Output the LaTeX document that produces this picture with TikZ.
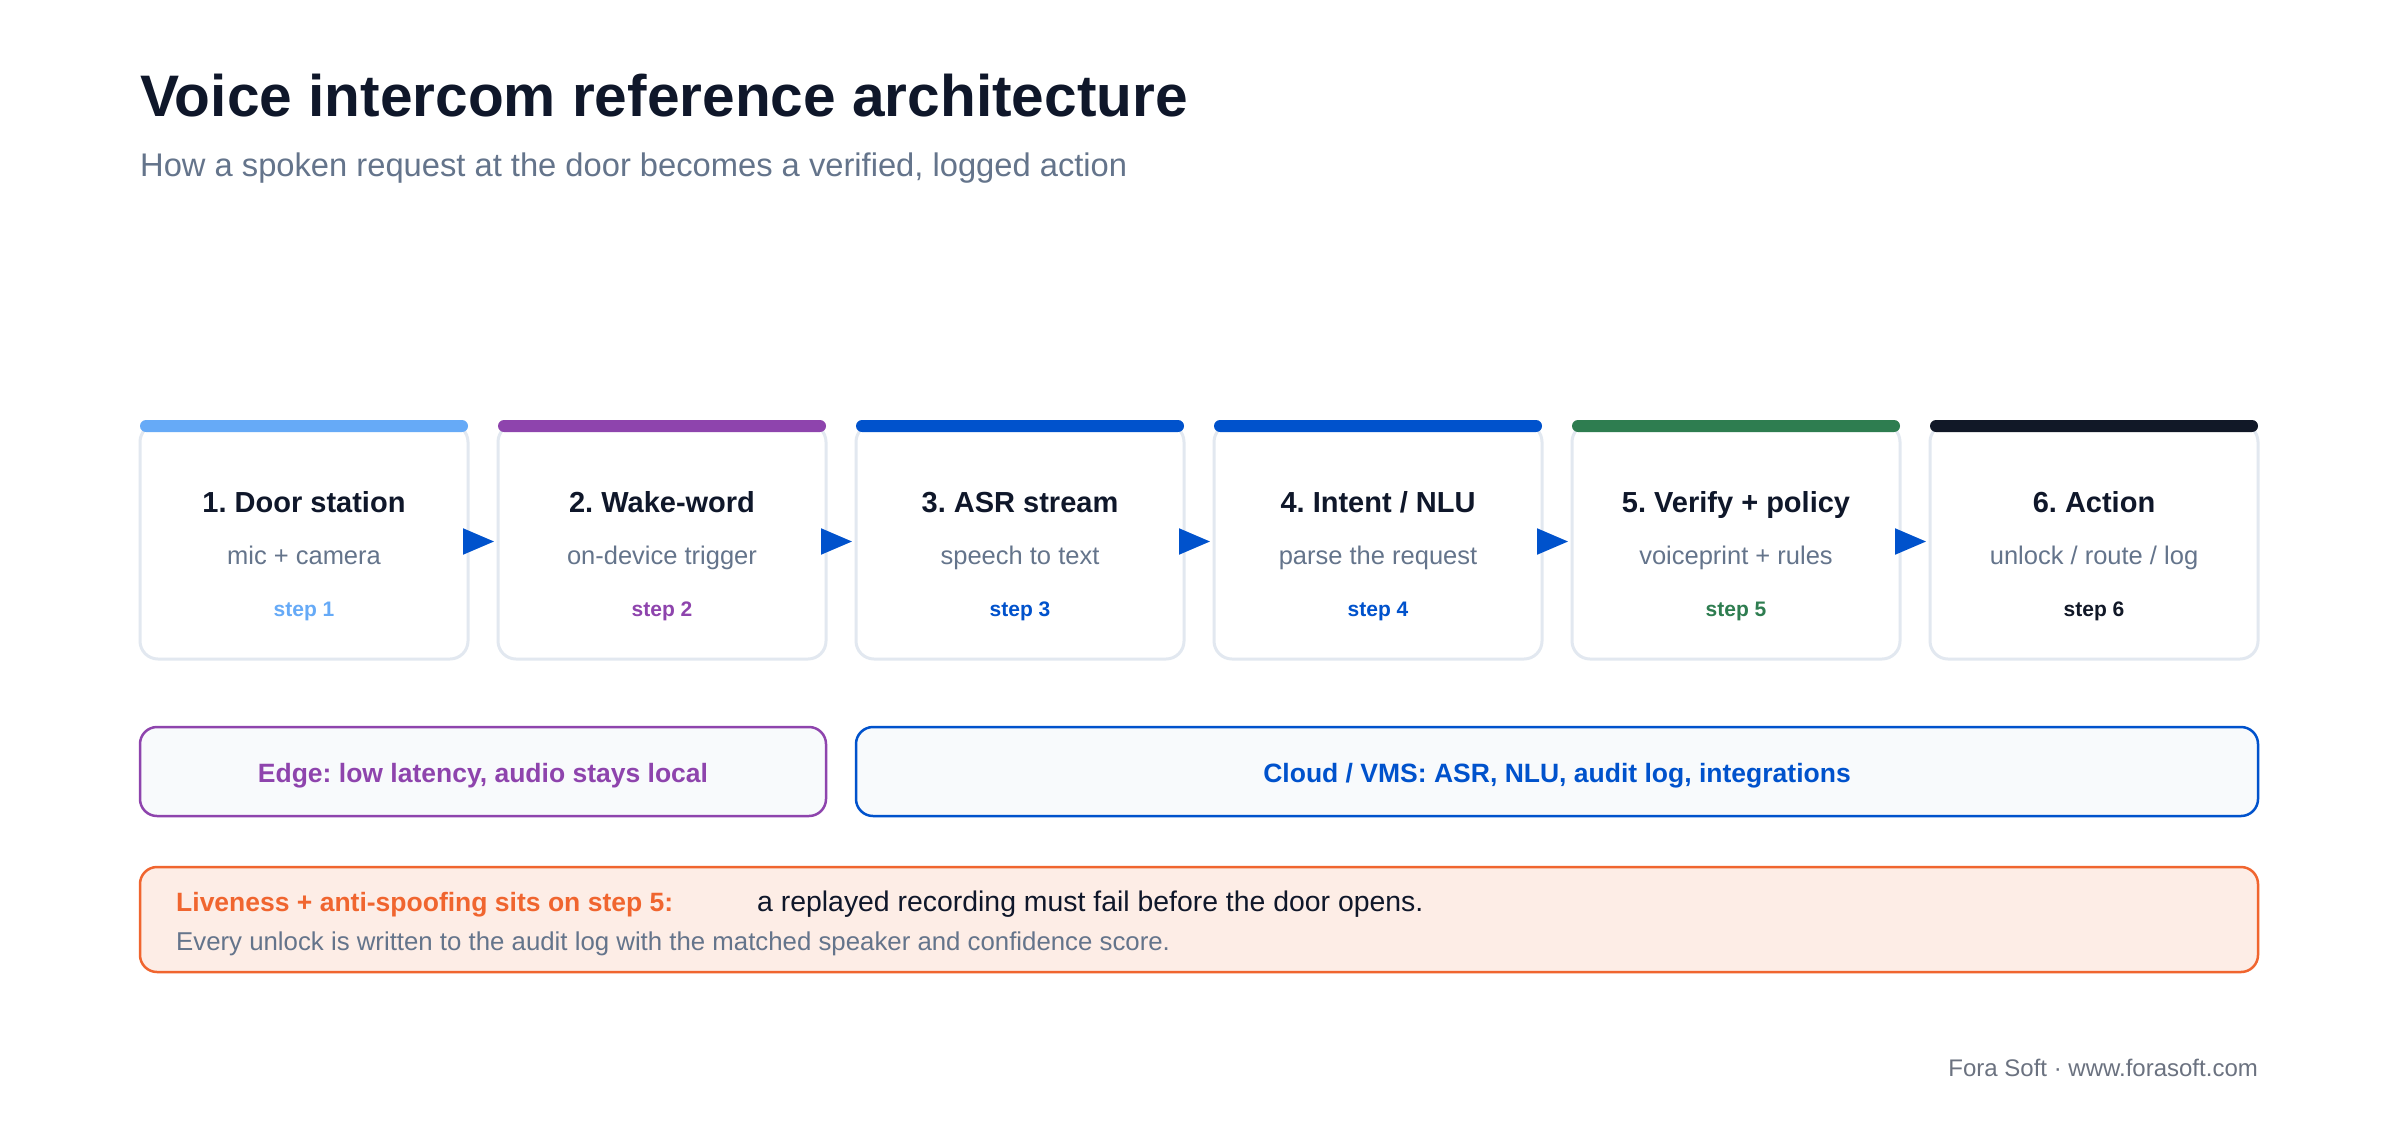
\documentclass[tikz,border=0pt]{standalone}
\usepackage{fontspec}
\setmainfont{Liberation Sans}
\usetikzlibrary{arrows.meta}
\frenchspacing
\definecolor{navy}{HTML}{0F172A}
\definecolor{slate}{HTML}{64748B}
\definecolor{boxline}{HTML}{E2E8F0}
\definecolor{cA}{HTML}{66AAF7}
\definecolor{cB}{HTML}{8E44AD}
\definecolor{cC}{HTML}{0052CC}
\definecolor{cD}{HTML}{0052CC}
\definecolor{cE}{HTML}{2E7D50}
\definecolor{cF}{HTML}{111827}
\definecolor{zonefill}{HTML}{F8FAFC}
\definecolor{warnline}{HTML}{F0652F}
\definecolor{warnfill}{HTML}{FDEDE6}
\definecolor{footgray}{HTML}{6B7280}
\newcommand{\myfs}[1]{\fontsize{#1}{#1}\selectfont}
\tikzset{
  stepbox/.style={draw=boxline, line width=3pt, fill=white, rounded corners=18pt,
    minimum width=328pt, minimum height=235pt, inner sep=0pt},
  topbar/.style={rounded corners=6pt, minimum width=328pt, minimum height=12pt, inner sep=0pt},
  steptitle/.style={anchor=base, font=\bfseries\myfs{29}, text=navy, inner sep=0pt},
  stepdesc/.style={anchor=base, font=\myfs{25.5}, text=slate, inner sep=0pt},
  steplabel/.style={anchor=base, font=\bfseries\myfs{21}, inner sep=0pt},
  flow/.style={draw=cC, fill=cC, line width=2pt, -{Triangle[length=31pt,width=26pt]}},
  zonebox/.style={line width=2.5pt, fill=zonefill, rounded corners=17pt, minimum height=89pt, inner sep=0pt},
  zonetext/.style={anchor=base, font=\bfseries\myfs{26.5}, inner sep=0pt},
}
\begin{document}
\begin{tikzpicture}[x=1pt,y=-1pt]
\useasboundingbox[fill=white] (0,0) rectangle (2400,1120);

% title
\node[anchor=base west, inner sep=0pt, font=\bfseries\myfs{58.6}, text=navy] (title) at (140,116) {Voice intercom reference architecture};
\node[anchor=base west, inner sep=0pt, font=\myfs{32.7}, text=slate] (subtitle) at (140,176) {How a spoken request at the door becomes a verified, logged action};

% step boxes
\node[stepbox] (s1) at (304,541.5) {};
\node[stepbox] (s2) at (662,541.5) {};
\node[stepbox] (s3) at (1020,541.5) {};
\node[stepbox] (s4) at (1378,541.5) {};
\node[stepbox] (s5) at (1736,541.5) {};
\node[stepbox] (s6) at (2094,541.5) {};

\node[topbar, fill=cA] (b1) at (304,426) {};
\node[topbar, fill=cB] (b2) at (662,426) {};
\node[topbar, fill=cC] (b3) at (1020,426) {};
\node[topbar, fill=cD] (b4) at (1378,426) {};
\node[topbar, fill=cE] (b5) at (1736,426) {};
\node[topbar, fill=cF] (b6) at (2094,426) {};

\node[steptitle] (t1) at (304,512) {1. Door station};
\node[steptitle] (t2) at (662,512) {2. Wake-word};
\node[steptitle] (t3) at (1020,512) {3. ASR stream};
\node[steptitle] (t4) at (1378,512) {4. Intent / NLU};
\node[steptitle] (t5) at (1736,512) {5. Verify + policy};
\node[steptitle] (t6) at (2094,512) {6. Action};

\node[stepdesc] (d1) at (304,564) {mic + camera};
\node[stepdesc] (d2) at (662,564) {on-device trigger};
\node[stepdesc] (d3) at (1020,564) {speech to text};
\node[stepdesc] (d4) at (1378,564) {parse the request};
\node[stepdesc] (d5) at (1736,564) {voiceprint + rules};
\node[stepdesc] (d6) at (2094,564) {unlock / route / log};

\node[steplabel, text=cA] (l1) at (304,616) {step 1};
\node[steplabel, text=cB] (l2) at (662,616) {step 2};
\node[steplabel, text=cC] (l3) at (1020,616) {step 3};
\node[steplabel, text=cD] (l4) at (1378,616) {step 4};
\node[steplabel, text=cE] (l5) at (1736,616) {step 5};
\node[steplabel, text=cF] (l6) at (2094,616) {step 6};

% connectors
\draw[flow] ([xshift=-6.5pt]s1.east) -- ([xshift=-2.5pt]s2.west);
\draw[flow] ([xshift=-6.5pt]s2.east) -- ([xshift=-2.5pt]s3.west);
\draw[flow] ([xshift=-6.5pt]s3.east) -- ([xshift=-2.5pt]s4.west);
\draw[flow] ([xshift=-6.5pt]s4.east) -- ([xshift=-2.5pt]s5.west);
\draw[flow] ([xshift=-6.5pt]s5.east) -- ([xshift=-2.5pt]s6.west);

% zones
\node[zonebox, draw=cB, minimum width=686pt] (edge) at (483,771.5) {};
\node[zonetext, text=cB] (edgetext) at (483,782) {Edge: low latency, audio stays local};
\node[zonebox, draw=cC, minimum width=1402pt] (cloud) at (1557,771.5) {};
\node[zonetext, text=cC] (cloudtext) at (1557,782) {Cloud / VMS: ASR, NLU, audit log, integrations};

% callout
\node[draw=warnline, line width=2.5pt, fill=warnfill, rounded corners=17pt, minimum width=2118pt, minimum height=105pt, inner sep=0pt] (callout) at (1199,919.5) {};
\node[anchor=base west, inner sep=0pt, font=\bfseries\myfs{26.5}, text=warnline] (warnhead) at (176,911) {Liveness + anti-spoofing sits on step 5:};
\node[anchor=base west, inner sep=0pt, font=\myfs{28.4}, text=navy] (warnbody) at (757,911) {a replayed recording must fail before the door opens.};
\node[anchor=base west, inner sep=0pt, font=\myfs{25.8}, text=slate] (warnnote) at (176,950) {Every unlock is written to the audit log with the matched speaker and confidence score.};

% footer
\node[anchor=base east, inner sep=0pt, font=\myfs{24}, text=footgray] (footer) at (2258,1076) {Fora Soft · www.forasoft.com};
\end{tikzpicture}
\end{document}
